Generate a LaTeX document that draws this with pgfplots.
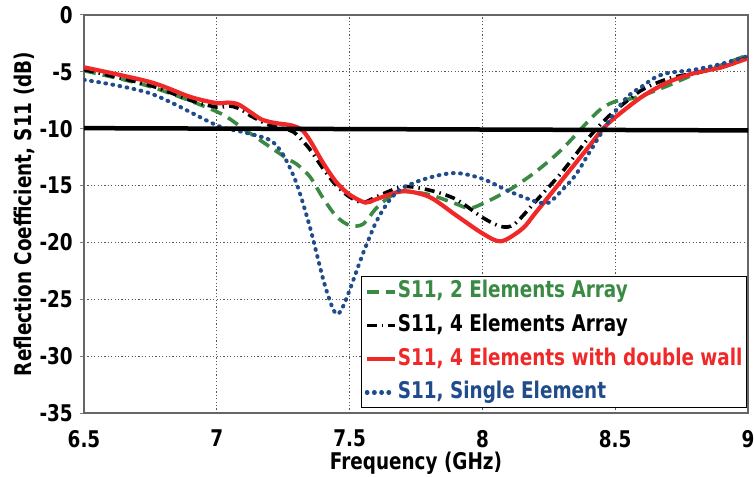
\documentclass[border=0pt]{standalone}
\usepackage{fontspec}
\setmainfont{DejaVu Sans}[FakeStretch=0.8]
\usepackage{pgfplots}
\pgfplotsset{compat=1.18}
\definecolor{cgreen}{RGB}{58,138,68}
\definecolor{cred}{RGB}{240,40,40}
\definecolor{cblue}{RGB}{32,76,140}
\begin{document}
\begin{tikzpicture}
\useasboundingbox (-84pt,-63pt) rectangle (670pt,413pt);
\begin{axis}[
  scale only axis, width=664pt, height=398pt,
  xmin=6.5, xmax=9, ymin=-35, ymax=0,
  xtick={6.5,7,7.5,8,8.5,9},
  xticklabels={6.5,7,7.5,8,8.5,9},
  ytick={-35,-30,-25,-20,-15,-10,-5,0},
  yticklabels={-35,-30,-25,-20,-15,-10,-5,0},
  tick label style={font=\fontsize{23}{25}\selectfont\bfseries},
  yticklabel style={anchor=east, inner sep=0pt, xshift=-7pt},
  xticklabel style={anchor=north, inner sep=0pt, yshift=-13pt},
  xtick style={draw=none},
  ytick style={gray, line width=1pt},
  major tick length=4pt, tick align=outside,
  xtick pos=bottom, ytick pos=left,
  grid=major,
  major grid style={gray!70!black, line width=0.8pt, dash pattern=on 1.2pt off 2.2pt},
  axis line style={gray!80!black, line width=1.2pt},
  xlabel={Frequency (GHz)},
  ylabel={Reflection Coefficient, S11 (dB)},
  label style={font=\fontsize{23}{25}\selectfont\bfseries},
  xlabel style={at={(axis description cs:0.5,-0.1256)}, anchor=center},
  ylabel style={at={(axis description cs:-0.0904,0.5)}, anchor=center},
  legend cell align=left,
  legend style={at={(1,0)}, anchor=south east, xshift=-1pt, yshift=5pt,
    draw=black, line width=1pt, fill=white, inner sep=3pt,
    font=\fontsize{23}{25}\selectfont\bfseries,
    nodes={inner sep=1pt, text height=17pt, text depth=5pt},
    row sep=9.5pt},
  legend image code/.code={\draw[#1] (0pt,0pt) -- (28pt,0pt);},
]
\addplot[cgreen, line width=3.6pt, dash pattern=on 12pt off 7pt, smooth] coordinates {
(6.5,-4.9) (6.75,-6.3) (7.0,-8.5) (7.1,-10) (7.2,-11.6) (7.27,-12.7) (7.3,-13.1) (7.35,-14.2) (7.4,-16.1) (7.45,-17.7) (7.5,-18.5) (7.55,-18.4) (7.6,-17.0) (7.65,-16) (7.7,-15.5) (7.8,-15.8) (7.9,-16.6) (7.95,-17.0) (8.0,-16.6) (8.1,-15.4) (8.2,-13.8) (8.3,-11.8) (8.4,-9.3) (8.45,-8.2) (8.5,-7.6) (8.55,-7.4) (8.6,-7.1) (8.7,-6.2) (8.8,-5.2) (8.9,-4.4) (9.0,-3.5)};
\addlegendentry{\textcolor{cgreen}{S11, 2 Elements Array}}
\addplot[black, line width=3.6pt, dash pattern=on 10pt off 5pt on 1.5pt off 5pt, smooth] coordinates {
(6.5,-4.8) (6.75,-6.2) (6.9,-7.5) (7.0,-8.1) (7.05,-8.0) (7.09,-8.3) (7.13,-8.9) (7.2,-9.7) (7.27,-10.1) (7.3,-10.5) (7.35,-11.8) (7.4,-13.5) (7.45,-15) (7.5,-16) (7.55,-16.5) (7.6,-16) (7.7,-15.1) (7.8,-15.4) (7.9,-16.2) (8.0,-17.8) (8.07,-18.6) (8.12,-18.4) (8.2,-16.4) (8.3,-13.8) (8.4,-10.8) (8.45,-9.5) (8.5,-8.4) (8.6,-6.6) (8.7,-5.6) (8.8,-5.1) (8.9,-4.6) (9.0,-3.7)};
\addlegendentry{S11, 4 Elements Array}
\addplot[cred, line width=4.2pt, smooth] coordinates {
(6.5,-4.6) (6.75,-5.9) (6.9,-7.2) (7.0,-7.75) (7.04,-7.7) (7.08,-7.85) (7.13,-8.6) (7.17,-9.2) (7.22,-9.5) (7.28,-9.7) (7.32,-10.1) (7.35,-11) (7.4,-13) (7.45,-14.7) (7.5,-15.8) (7.56,-16.5) (7.6,-16.2) (7.7,-15.5) (7.8,-16) (7.9,-17.6) (8.0,-19.2) (8.07,-19.9) (8.15,-18.8) (8.2,-17.4) (8.3,-14.5) (8.4,-11.6) (8.45,-10.1) (8.5,-9) (8.6,-7.2) (8.7,-5.9) (8.8,-5.1) (8.9,-4.6) (9.0,-3.8)};
\addlegendentry{\textcolor{cred}{S11, 4 Elements with double wall}}
\addplot[cblue, line width=4pt, line cap=round, dash pattern=on 0.8pt off 6.4pt, smooth] coordinates {
(6.5,-5.7) (6.75,-6.9) (7.0,-9.7) (7.1,-10.3) (7.2,-11) (7.25,-12.3) (7.3,-14.8) (7.35,-18.6) (7.4,-23.2) (7.43,-25.4) (7.45,-26.3) (7.47,-25.9) (7.5,-24.2) (7.55,-21) (7.6,-18.2) (7.65,-16.3) (7.7,-15.2) (7.8,-14.3) (7.9,-13.9) (8.0,-14.4) (8.1,-15.5) (8.2,-16.4) (8.25,-16.5) (8.3,-15.4) (8.35,-14.1) (8.4,-12.2) (8.45,-10.3) (8.5,-8.5) (8.55,-7.1) (8.6,-6.3) (8.65,-5.5) (8.7,-5.1) (8.8,-4.8) (8.9,-4.3) (9.0,-3.6)};
\addlegendentry{\textcolor{cblue}{S11, Single Element}}
\addplot[black, line width=4.5pt, forget plot] coordinates {(6.5,-9.95) (9,-10.15)};
\end{axis}
\end{tikzpicture}
\end{document}
